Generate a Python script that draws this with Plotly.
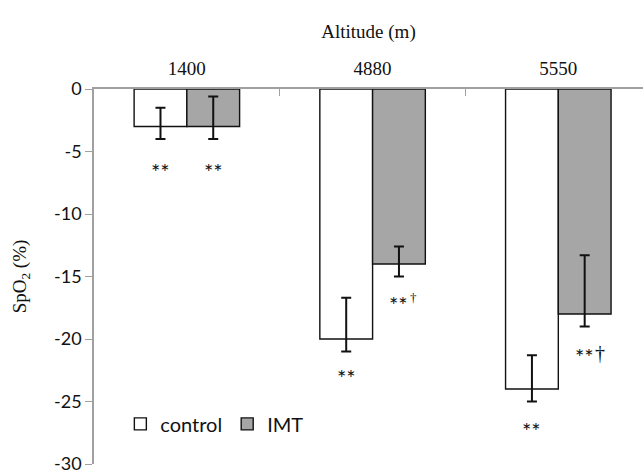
import plotly.graph_objects as go

altitudes = ["1400", "4880", "5550"]
control = [-3, -20, -24]
imt = [-3, -14, -18]
control_err_up = [1.5, 3.3, 2.7]
control_err_down = [1.0, 1.0, 1.0]
imt_err_up = [2.4, 1.4, 4.7]
imt_err_down = [1.0, 1.0, 1.0]
control_marks = ["**", "**", "**"]
control_mark_y = [-6.6, -23.1, -27.3]
imt_marks = ["**", "**", "**"]
imt_daggers = ["", "sup", "normal"]
imt_mark_y = [-6.6, -17.2, -21.4]
y_ticks = [0, -5, -10, -15, -20, -25, -30]
y_ticktext = ["0", "-5", "-10", "-15", "-20", "-25", "-30"]

sans = "Lato, Carlito, Liberation Sans, sans-serif"
serif = "Liberation Serif, Times New Roman, serif"

fig = go.Figure()
fig.add_trace(go.Bar(
    name="control", x=altitudes, y=control, offsetgroup="c",
    marker=dict(color="white", line=dict(color="#111111", width=1.4)),
    error_y=dict(type="data", symmetric=False, array=control_err_up,
                 arrayminus=control_err_down, color="#111111", thickness=2, width=5),
))
fig.add_trace(go.Bar(
    name="IMT", x=altitudes, y=imt, offsetgroup="i",
    marker=dict(color="#a6a6a6", line=dict(color="#111111", width=1.4)),
    error_y=dict(type="data", symmetric=False, array=imt_err_up,
                 arrayminus=imt_err_down, color="#111111", thickness=2, width=5),
))

for i, cat in enumerate(altitudes):
    fig.add_annotation(x=i - 0.142, y=control_mark_y[i], text=control_marks[i],
                       showarrow=False, font=dict(family=sans, size=22, color="#111111"))
    fig.add_annotation(x=i + 0.142, y=imt_mark_y[i], text=imt_marks[i],
                       showarrow=False, font=dict(family=sans, size=22, color="#111111"))
    if imt_daggers[i]:
        small = imt_daggers[i] == "sup"
        fig.add_annotation(x=i + 0.142, y=imt_mark_y[i], text="†", showarrow=False,
                           xanchor="center", xshift=15, yshift=7 if small else 4,
                           font=dict(family=serif, size=13 if small else 20, color="#111111"))

fig.update_layout(
    width=643, height=473,
    margin=dict(l=94, r=0, t=89, b=9),
    paper_bgcolor="white", plot_bgcolor="white",
    barmode="group", bargap=0.432, bargroupgap=0,
    showlegend=True,
    legend=dict(orientation="h", x=0.048, y=0.107, xanchor="left", yanchor="middle",
                font=dict(family=sans, size=20, color="#111111"),
                bgcolor="rgba(0,0,0,0)", itemwidth=30, traceorder="normal"),
    xaxis=dict(side="top", type="category", range=[-0.5, 2.456], automargin=False,
               showline=True, linecolor="#a0a0a0", linewidth=1.5,
               ticks="inside", ticklen=7, tickcolor="#a0a0a0", tickson="boundaries",
               ticklabelstandoff=5,
               tickfont=dict(family=serif, size=19, color="#111111"),
               title=dict(text="Altitude (m)", font=dict(family=serif, size=19, color="#111111"),
                          standoff=14),
               showgrid=False, zeroline=False),
    yaxis=dict(range=[-30, 0], tickvals=y_ticks, ticktext=y_ticktext, automargin=False,
               showline=True, linecolor="#a0a0a0", linewidth=1.5,
               ticks="outside", ticklen=7, tickcolor="#a0a0a0",
               ticklabeloverflow="allow",
               tickfont=dict(family=sans, size=18, color="#111111"),
               title=dict(text="SpO<sub>2</sub> (%)", font=dict(family=serif, size=19, color="#111111"),
                          standoff=22),
               showgrid=False, zeroline=False),
)

fig.write_html("out.html", config={"displayModeBar": False},
               post_script="document.body.style.margin='0';document.body.style.overflow='hidden';")
